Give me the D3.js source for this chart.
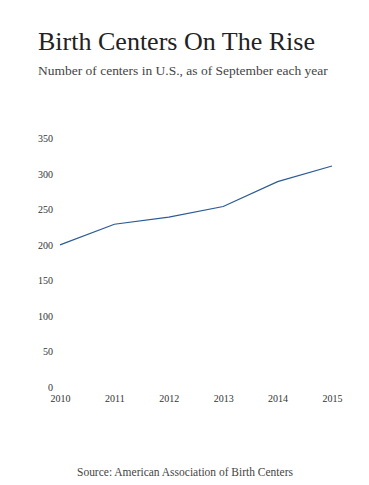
<!DOCTYPE html>
<html><head><meta charset="utf-8">
<script src="https://cdn.jsdelivr.net/npm/d3@7"></script>
<style>
html,body{margin:0;padding:0;background:#fff;}
svg{display:block;}
</style></head>
<body>
<svg id="chart" width="369" height="485"></svg>
<script>
const years = [2010, 2011, 2012, 2013, 2014, 2015];
const centers = [200, 229, 239, 254, 289, 311];
const yTicks = [0, 50, 100, 150, 200, 250, 300, 350];
const title = "Birth Centers On The Rise";
const subtitle = "Number of centers in U.S., as of September each year";
const source = "Source: American Association of Birth Centers";

const svg = d3.select("#chart");
const serif = "'Liberation Serif', 'DejaVu Serif', serif";

function fitText(sel, target) {
  const w = sel.node().getComputedTextLength();
  const fs = parseFloat(sel.attr("font-size"));
  sel.attr("font-size", (fs * target / w).toFixed(2));
}

const t = svg.append("text").attr("x", 38).attr("y", 50)
  .attr("font-family", serif).attr("font-size", 24).attr("fill", "#222").text(title);
fitText(t, 277);
const st = svg.append("text").attr("x", 38).attr("y", 75)
  .attr("font-family", serif).attr("font-size", 14).attr("fill", "#444").text(subtitle);
fitText(st, 290);

const x = d3.scaleLinear().domain([2010, 2015]).range([60, 332]);
const y = d3.scaleLinear().domain([0, 350]).range([387, 138.3]);

const yAxis = svg.append("g").attr("transform", "translate(53,0)")
  .call(d3.axisLeft(y).tickValues(yTicks).tickSize(0).tickPadding(0).tickFormat(d3.format("d")));
yAxis.select(".domain").remove();
yAxis.selectAll("text").attr("font-family", serif).attr("font-size", 10).attr("fill", "#333");

const xAxis = svg.append("g").attr("transform", "translate(0,395)")
  .call(d3.axisBottom(x).tickValues(years).tickSize(0).tickPadding(0).tickFormat(d3.format("d")));
xAxis.select(".domain").remove();
xAxis.selectAll("text").attr("font-family", serif).attr("font-size", 10).attr("fill", "#333");

const line = d3.line().x((d, i) => x(years[i])).y(d => y(d));
svg.append("path").datum(centers).attr("d", line)
  .attr("fill", "none").attr("stroke", "#2b5a94").attr("stroke-width", 1.2);

const s = svg.append("text").attr("x", 77).attr("y", 476)
  .attr("font-family", serif).attr("font-size", 10).attr("fill", "#444").text(source);
fitText(s, 216);
</script>
</body></html>
